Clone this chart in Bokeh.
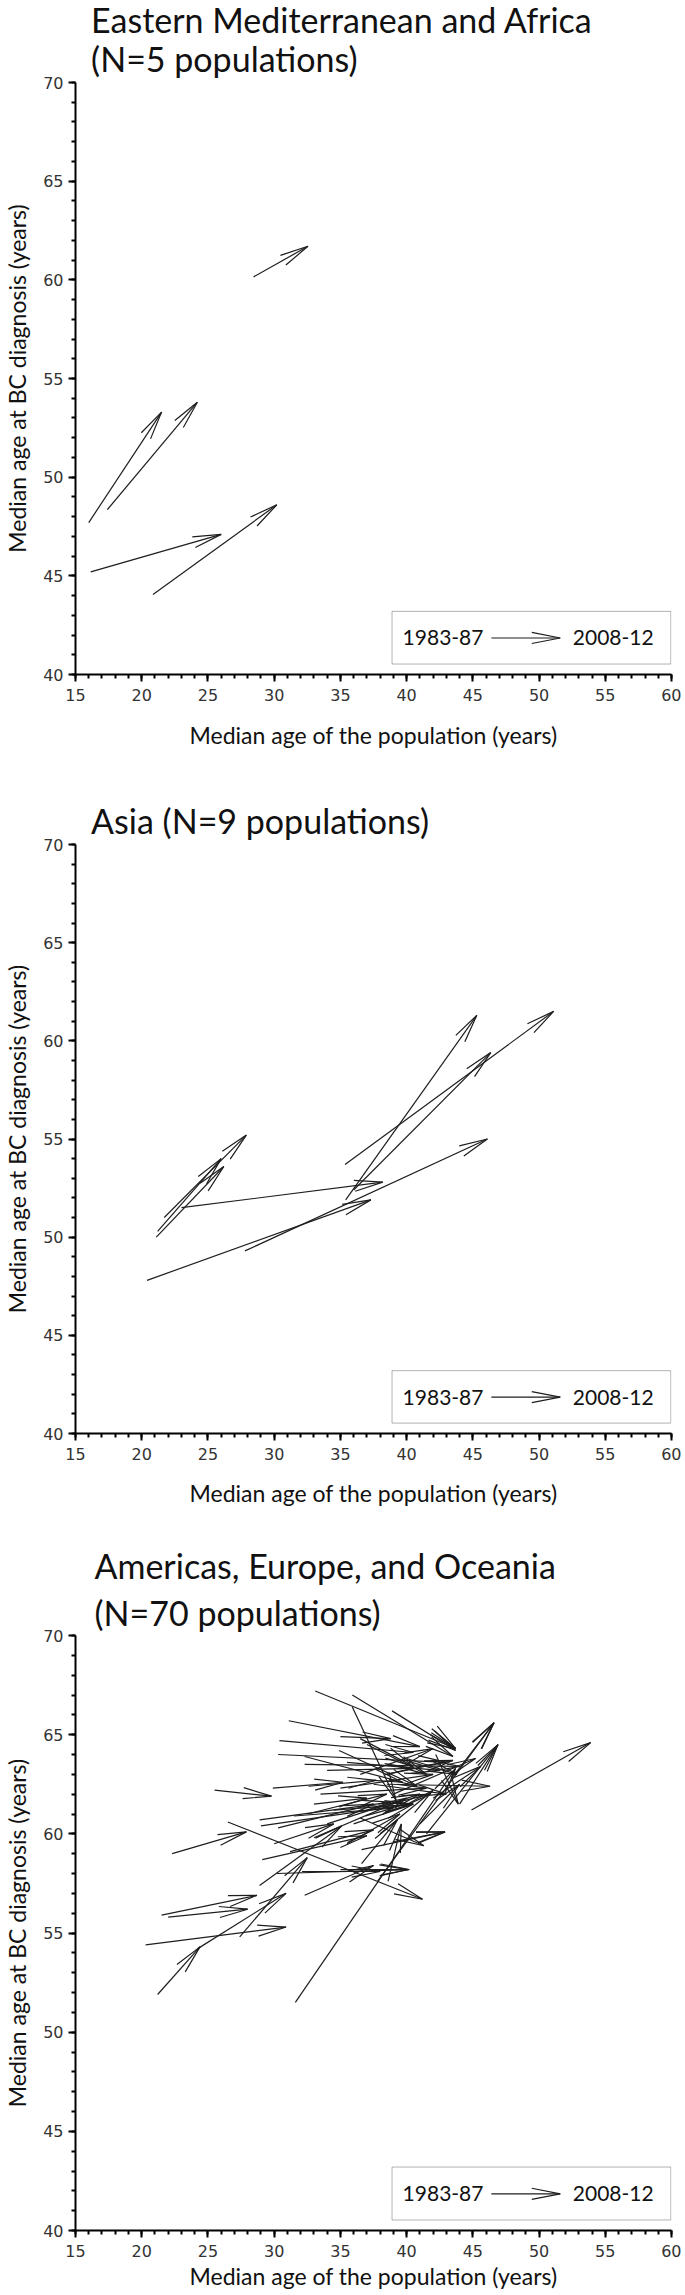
import math
from bokeh.plotting import figure
from bokeh.models import Range1d, SingleIntervalTicker, Label, BoxAnnotation, Title
from bokeh.layouts import column
from bokeh.embed import file_html
from bokeh.resources import INLINE

# ---------------- data ----------------
# Panel 1: Eastern Mediterranean and Africa (1983-87 -> 2008-12)
emaf_pop_age_8387 = [16.0, 17.4, 16.15, 20.85, 28.45]
emaf_bc_age_8387 = [47.7, 48.35, 45.2, 44.05, 60.15]
emaf_pop_age_0812 = [21.5, 24.2, 26.0, 30.2, 32.55]
emaf_bc_age_0812 = [53.3, 53.8, 47.1, 48.6, 61.7]

# Panel 2: Asia
asia_pop_age_8387 = [21.1, 21.2, 21.7, 23.0, 20.4, 27.8, 35.4, 36.0, 35.35]
asia_bc_age_8387 = [50.0, 50.3, 51.0, 51.5, 47.8, 49.3, 51.9, 52.4, 53.7]
asia_pop_age_0812 = [26.2, 26.0, 27.9, 38.2, 37.3, 46.1, 45.3, 46.35, 51.1]
asia_bc_age_0812 = [53.6, 54.0, 55.2, 52.8, 51.9, 55.0, 61.3, 59.4, 61.5]

# Panel 3: Americas, Europe, and Oceania
aeo_pop_age_8387 = [21.2, 24.2, 20.3, 21.5, 22.0, 22.3, 25.5, 27.4, 31.6, 26.5,
                    44.9, 33.1, 35.9, 38.9, 41.9, 35.9, 31.1, 30.4, 30.3, 32.3,
                    32.3, 29.9, 32.6, 28.9, 29.0, 29.1, 28.9, 32.3, 30.2, 32.1,
                    30.3, 37.8, 43.4, 44.0, 41.5, 38.5, 42.2, 36.6, 39.0, 36.5,
                    35.0, 36.6, 31.2, 31.5, 33.0, 34.0, 32.5, 34.5, 33.5, 35.0,
                    34.0, 35.5, 34.9, 37.0, 36.5, 35.0, 37.5, 36.0, 38.0, 35.5,
                    30.0, 38.5, 39.0, 40.0, 37.5, 33.0, 36.5, 38.6, 41.0, 42.0]
aeo_bc_age_8387 = [51.9, 54.2, 54.4, 55.9, 55.8, 59.0, 62.2, 54.8, 51.5, 60.6,
                   61.2, 67.2, 67.0, 66.2, 65.3, 66.4, 65.7, 64.7, 64.0, 63.5,
                   63.9, 62.3, 62.4, 60.7, 60.4, 58.7, 57.4, 56.9, 58.0, 58.1,
                   60.3, 57.6, 62.8, 61.5, 60.0, 62.5, 64.0, 59.2, 59.6, 60.8,
                   58.2, 58.5, 59.1, 60.9, 59.8, 60.5, 61.0, 61.2, 62.0, 62.3,
                   63.2, 63.6, 64.2, 64.5, 64.8, 64.9, 61.3, 60.5, 60.0, 59.5,
                   59.5, 63.0, 62.0, 63.8, 62.5, 61.5, 63.0, 57.6, 60.5, 61.8]
aeo_pop_age_0812 = [24.4, 30.9, 30.9, 28.7, 28.0, 27.9, 29.8, 32.5, 43.7, 41.2,
                    53.9, 43.7, 43.5, 43.7, 43.7, 39.2, 41.0, 40.5, 43.0, 44.0,
                    39.7, 35.2, 37.7, 38.8, 40.3, 37.0, 35.1, 37.5, 40.1, 38.0,
                    37.5, 46.6, 46.6, 46.9, 46.9, 46.3, 43.9, 42.9, 42.9, 41.3,
                    40.2, 39.3, 37.5, 39.0, 40.0, 41.0, 38.5, 40.5, 41.5, 42.0,
                    40.5, 42.5, 40.8, 41.5, 40.5, 38.8, 41.8, 40.5, 42.0, 39.5,
                    34.5, 43.5, 45.2, 43.8, 43.0, 37.0, 42.0, 39.6, 44.0, 45.6]
aeo_bc_age_0812 = [54.3, 57.0, 55.3, 56.9, 56.2, 60.1, 61.9, 58.8, 63.3, 56.7,
                   64.6, 64.3, 63.9, 64.2, 64.3, 61.7, 64.4, 64.1, 63.6, 63.4,
                   62.6, 62.6, 62.7, 61.6, 61.5, 59.9, 60.4, 58.4, 58.2, 58.1,
                   61.5, 65.6, 65.6, 64.5, 64.5, 62.4, 61.5, 60.1, 60.1, 59.4,
                   58.2, 60.7, 60.2, 61.3, 61.8, 62.0, 62.0, 61.5, 62.3, 63.0,
                   63.3, 63.2, 62.4, 63.0, 63.4, 64.8, 62.0, 61.5, 62.2, 61.0,
                   60.5, 63.7, 63.8, 63.0, 62.0, 61.8, 64.3, 60.5, 62.5, 63.4]

tick_interval = 5
legend_texts = ["1983-87", "2008-12"]
x_label = "Median age of the population (years)"
y_label = "Median age at BC diagnosis (years)"

# ---------------- styling ----------------
X_MIN, X_MAX, Y_MIN, Y_MAX = 15, 60, 40, 70
FRAME_W = 596
HEAD_LEN = 29
HEAD_ANGLE = math.radians(11)
ARROW_COLOR = "#1e1e1e"
TEXT_FONT = "Lato"


def head_lines(x0s, y0s, x1s, y1s, frame_h):
    sx = FRAME_W / (X_MAX - X_MIN)
    sy = frame_h / (Y_MAX - Y_MIN)
    xs, ys = [], []
    for x0, y0, x1, y1 in zip(x0s, y0s, x1s, y1s):
        dx = (x1 - x0) * sx
        dy = (y1 - y0) * sy
        L = math.hypot(dx, dy)
        ux, uy = -dx / L, -dy / L
        pts = []
        for s in (1, -1):
            a = s * HEAD_ANGLE
            bx = ux * math.cos(a) - uy * math.sin(a)
            by = ux * math.sin(a) + uy * math.cos(a)
            pts.append((x1 + HEAD_LEN * bx / sx, y1 + HEAD_LEN * by / sy))
        xs.append([pts[0][0], x1, pts[1][0]])
        ys.append([pts[0][1], y1, pts[1][1]])
    return xs, ys


def draw_arrows(p, x0, y0, x1, y1, frame_h):
    p.segment(x0=x0, y0=y0, x1=x1, y1=y1, line_color=ARROW_COLOR, line_width=1.2)
    hx, hy = head_lines(x0, y0, x1, y1, frame_h)
    p.multi_line(xs=hx, ys=hy, line_color=ARROW_COLOR, line_width=1.2)


def make_panel(titles, title_offset, title_specs, x0, y0, x1, y1, frame_h, top, bottom, xlabel_standoff):
    p = figure(frame_width=FRAME_W, frame_height=frame_h,
               x_range=Range1d(X_MIN, X_MAX), y_range=Range1d(Y_MIN, Y_MAX),
               output_backend="svg", toolbar_location=None,
               min_border_left=66, min_border_right=10,
               min_border_top=top, min_border_bottom=bottom)
    p.outline_line_color = None
    p.xgrid.visible = False
    p.ygrid.visible = False
    p.xaxis.axis_label = x_label
    p.yaxis.axis_label = y_label
    for ax in (p.xaxis, p.yaxis):
        ax.ticker = SingleIntervalTicker(interval=tick_interval, num_minor_ticks=5)
        ax.axis_line_width = 2
        ax.axis_line_color = "black"
        ax.major_tick_line_width = 2
        ax.major_tick_line_color = "black"
        ax.minor_tick_line_width = 2
        ax.minor_tick_line_color = "black"
        ax.major_tick_in = 0
        ax.major_tick_out = 7
        ax.minor_tick_in = 0
        ax.minor_tick_out = 4
        ax.major_label_text_font = "DejaVu Sans"
        ax.major_label_text_font_size = "16px"
        ax.major_label_text_color = "#333333"
        ax.axis_label_text_font = TEXT_FONT
        ax.axis_label_text_font_size = "23px"
        ax.axis_label_text_font_style = "normal"
        ax.axis_label_text_color = "#111111"
    p.xaxis.major_label_standoff = 7
    p.yaxis.major_label_standoff = 5
    p.xaxis.axis_label_standoff = xlabel_standoff
    p.yaxis.axis_label_standoff = 9

    draw_arrows(p, x0, y0, x1, y1, frame_h)

    # legend box
    p.add_layout(BoxAnnotation(left=38.9, right=59.95, bottom=40.53, top=43.2,
                               fill_color=None, fill_alpha=0,
                               line_color="black", line_width=1))
    draw_arrows(p, [46.4], [41.85], [51.6], [41.85], frame_h)
    for tx, txt in zip([42.75, 55.6], legend_texts):
        p.add_layout(Label(x=tx, y=41.85, text=txt, text_align="center",
                           text_baseline="middle", text_font=TEXT_FONT,
                           text_font_size="21px", text_color="#111111"))

    # titles: the line nearest the plot is added first
    for t, (valign, so) in zip(reversed(titles), reversed(title_specs)):
        p.add_layout(Title(text=t, align="left", vertical_align=valign, offset=title_offset,
                           standoff=so, text_font=TEXT_FONT, text_font_size="34px",
                           text_font_style="normal", text_color="#111111"), "above")
    return p


p1 = make_panel(["Eastern Mediterranean and Africa", "(N=5 populations)"], 15.6,
                [("bottom", -8.2), ("top", 4.4)],
                emaf_pop_age_8387, emaf_bc_age_8387, emaf_pop_age_0812, emaf_bc_age_0812,
                592, 75, 85, 17)
p2 = make_panel(["Asia (N=9 populations)"], 15.6, [("top", 2.5)],
                asia_pop_age_8387, asia_bc_age_8387, asia_pop_age_0812, asia_bc_age_0812,
                589, 85, 85, 16)
p3 = make_panel(["Americas, Europe, and Oceania", "(N=70 populations)"], 19.0,
                [("top", 6.8), ("top", 1.4)],
                aeo_pop_age_8387, aeo_bc_age_8387, aeo_pop_age_0812, aeo_bc_age_0812,
                595, 117, 56, 2)

layout = column(p1, p2, p3)
open("out.html", "w").write(file_html(layout, INLINE))
